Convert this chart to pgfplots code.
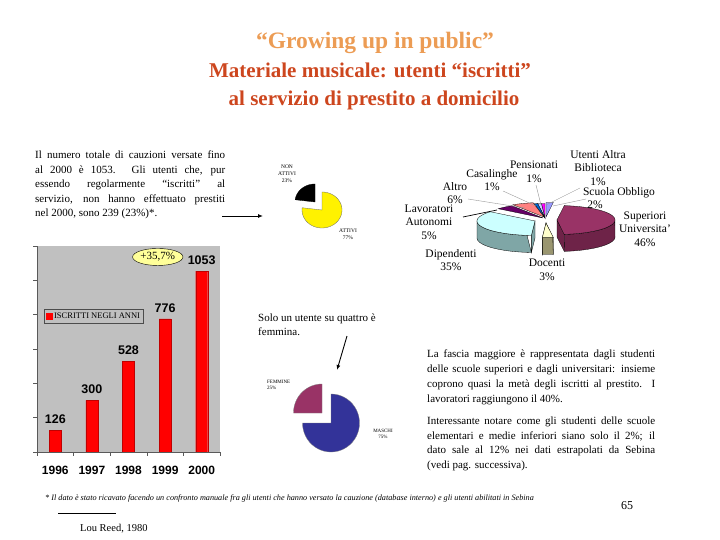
\documentclass[border=0pt]{standalone}
\usepackage{fontspec}
\setmainfont{Liberation Serif}
\newfontfamily\arial{Liberation Sans}
\usepackage{pgfplots}
\pgfplotsset{compat=1.18}
\usetikzlibrary{arrows.meta,shapes.geometric}

\definecolor{titleA}{RGB}{236,156,84}
\definecolor{titleB}{RGB}{205,70,30}
\definecolor{barbg}{RGB}{192,192,192}
\definecolor{supT}{HTML}{993366}
\definecolor{supS}{HTML}{6E2348}
\definecolor{docT}{HTML}{FFFFCC}
\definecolor{docS}{HTML}{9A9670}
\definecolor{dipT}{HTML}{CCFFFF}
\definecolor{dipS}{HTML}{7FA6A6}
\definecolor{lavT}{HTML}{660066}
\definecolor{altT}{HTML}{FF8080}
\definecolor{casT}{HTML}{0066CC}
\definecolor{penT}{HTML}{CCCCFF}
\definecolor{utT}{HTML}{FF00FF}
\definecolor{scuT}{HTML}{9999FF}
\definecolor{maschi}{HTML}{333399}
\definecolor{femmine}{HTML}{993366}
\definecolor{ellY}{HTML}{FFFF99}

% pie helpers (angles in degrees, image-style coordinates: y grows downwards)
\newcommand{\ptop}[7]{\addplot[#7, domain=#1:#2, samples=40] ({(#3)+(#5)*cos(x)},{(#4)-(#6)*sin(x)}) -- (axis cs:#3,#4) -- cycle;}
\newcommand{\pwall}[8]{\addplot[#8, samples at={0,0.05,...,1,1.0001,1.05,...,2.0001}] ({(#3)+(#5)*cos((#1)+((#2)-(#1))*min(x,2-x))},{(#4)-(#6)*sin((#1)+((#2)-(#1))*min(x,2-x))+(#7)*(x>1)}) -- cycle;}
\newcommand{\pradial}[7]{\addplot[#7, samples at={0,1,2,3}] ({(#2)+(#4)*cos(#1)*(x>0.5)*(x<2.5)},{(#3)-(#5)*sin(#1)*(x>0.5)*(x<2.5)+(#6)*(x>1.5)}) -- cycle;}

\begin{document}
\begin{tikzpicture}
\begin{axis}[at={(0pt,0pt)}, anchor=south west, scale only axis, width=720pt, height=540pt,
  xmin=0, xmax=720, ymin=0, ymax=540, y dir=reverse, hide axis, clip=false]
\path (axis cs:0,0) rectangle (axis cs:720,540);
% ---------- title
\node[anchor=base, inner sep=0, font=\fontsize{23.5}{23.5}\selectfont\bfseries, text=titleA] at (axis cs:375,49) {“Growing up in public”};
\node[anchor=base, inner sep=0, font=\fontsize{21}{21}\selectfont\bfseries, text=titleB] at (axis cs:370,78) {Materiale musicale: utenti “iscritti”};
\node[anchor=base, inner sep=0, font=\fontsize{21}{21}\selectfont\bfseries, text=titleB] at (axis cs:374,106) {al servizio di prestito a domicilio};
% ---------- left text
\begin{scope}[every node/.style={anchor=base west, inner sep=0, font=\fontsize{11}{13}\selectfont}]
\node at (axis cs:35,159) {\makebox[190pt][s]{Il numero totale di cauzioni versate fino}};
\node at (axis cs:35,173.5) {\makebox[190pt][s]{al 2000 è 1053. Gli utenti che, pur}};
\node at (axis cs:35,188) {\makebox[190pt][s]{essendo regolarmente “iscritti” al}};
\node at (axis cs:35,202.5) {\makebox[190pt][s]{servizio, non hanno effettuato prestiti}};
\node at (axis cs:35,217) {nel 2000, sono 239 (23\%)*.};
% right text
\node at (axis cs:427,357) {\makebox[228pt][s]{La fascia maggiore è rappresentata dagli studenti}};
\node at (axis cs:427,372) {\makebox[228pt][s]{delle scuole superiori e dagli universitari: insieme}};
\node at (axis cs:427,387) {\makebox[228pt][s]{coprono quasi la metà degli iscritti al prestito. I}};
\node at (axis cs:427,402) {lavoratori raggiungono il 40\%.};
\node at (axis cs:427,424) {\makebox[228pt][s]{Interessante notare come gli studenti delle scuole}};
\node at (axis cs:427,439) {\makebox[228pt][s]{elementari e medie inferiori siano solo il 2\%; il}};
\node at (axis cs:427,453.5) {\makebox[228pt][s]{dato sale al 12\% nei dati estrapolati da Sebina}};
\node at (axis cs:427,468) {(vedi pag. successiva).};
% middle text
\node at (axis cs:258,321) {Solo un utente su quattro è};
\node at (axis cs:258,335) {femmina.};
% bottom
\node[font=\fontsize{8.2}{9}\selectfont\itshape] at (axis cs:45,500) {* Il dato è stato ricavato facendo un confronto manuale fra gli utenti che hanno versato la cauzione (database interno) e gli utenti abilitati in Sebina};
\node[font=\fontsize{10.5}{12}\selectfont] at (axis cs:80,531) {Lou Reed, 1980};
\node[font=\fontsize{12}{12}\selectfont] at (axis cs:621,509) {65};
\end{scope}
\draw[line width=0.5pt] (axis cs:58,513) -- (axis cs:116,513);
% ---------- arrows
\draw[line width=0.9pt, -{Latex[length=5pt,width=4pt]}] (axis cs:222,216) -- (axis cs:263,216);
\draw[line width=0.9pt, -{Latex[length=5pt,width=4pt]}] (axis cs:347,336) -- (axis cs:337,370);
% ---------- pie: attivi / non attivi (77 / 23)
\ptop{-187.2}{90}{322}{210}{20}{18}{fill=yellow, draw=black!60, line width=0.3pt}
\ptop{90}{172.8}{315}{202}{20}{18}{fill=black, draw=black, line width=0.3pt}
\node[align=center, inner sep=0, font=\fontsize{5.5}{7}\selectfont] at (axis cs:287,174) {NON\\ATTIVI\\23\%};
\node[align=center, inner sep=0, font=\fontsize{5.5}{7}\selectfont] at (axis cs:348,234) {ATTIVI\\77\%};
% ---------- pie: maschi / femmine (75 / 25)
\ptop{-180}{90}{331}{423}{28.5}{29}{fill=maschi, draw=black!50, line width=0.3pt}
\ptop{90}{180}{322}{413}{28.5}{29}{fill=femmine, draw=black!50, line width=0.3pt}
\node[align=left, anchor=west, inner sep=0, font=\fontsize{5}{6.5}\selectfont] at (axis cs:267,385) {FEMMINE\\25\%};
\node[align=center, inner sep=0, font=\fontsize{5}{6.5}\selectfont] at (axis cs:383,434) {MASCHI\\75\%};
% ---------- 3D pie: categories of users
% Scuola 2, Superiori 46, Docenti 3, Dipendenti 35, Lavoratori 5, Altro 6, Casalinghe 1, Pensionati 1, Utenti altra bibl. 1
\pwall{-180}{-93.6}{535}{221}{58}{14.5}{17}{fill=dipS, draw=black, line width=0.3pt}
\pradial{-93.6}{535}{221}{58}{14.5}{17}{fill=dipS, draw=black, line width=0.3pt}
\pradial{-82.8}{557}{220}{58}{14.5}{17}{fill=supS, draw=black, line width=0.3pt}
\pwall{-82.8}{0}{557}{220}{58}{14.5}{17}{fill=supS, draw=black, line width=0.3pt}
\pradial{-93.6}{546}{223}{58}{14.5}{17}{fill=docS, draw=black, line width=0.3pt}
\pradial{-82.8}{546}{223}{58}{14.5}{17}{fill=docS, draw=black, line width=0.3pt}
\pwall{-93.6}{-82.8}{546}{223}{58}{14.5}{17}{fill=docS, draw=black, line width=0.3pt}
\ptop{82.8}{90}{546}{217}{58}{14.5}{fill=scuT, draw=black, line width=0.3pt}
\ptop{-270}{-266.4}{545}{218}{58}{14.5}{fill=utT, draw=black, line width=0.3pt}
\ptop{-266.4}{-262.8}{545}{218}{58}{14.5}{fill=penT, draw=black, line width=0.3pt}
\ptop{-262.8}{-259.2}{545}{218}{58}{14.5}{fill=casT, draw=black, line width=0.3pt}
\ptop{-259.2}{-237.6}{544}{217}{58}{14.5}{fill=altT, draw=black, line width=0.3pt}
\ptop{-237.6}{-219.6}{543}{218}{58}{14.5}{fill=lavT, draw=black, line width=0.3pt}
\ptop{-82.8}{82.8}{557}{220}{58}{14.5}{fill=supT, draw=black, line width=0.3pt}
\ptop{-219.6}{-93.6}{535}{221}{58}{14.5}{fill=dipT, draw=black, line width=0.3pt}
\ptop{-93.6}{-82.8}{546}{223}{58}{14.5}{fill=docT, draw=black, line width=0.3pt}
% leader lines
\draw[line width=0.7pt] (axis cs:463,217) -- (axis cs:497,210);
\begin{scope}[line width=0.4pt, draw=black!40]
\draw (axis cs:580,188) -- (axis cs:546,205);
\draw (axis cs:536,185) -- (axis cs:541,205);
\draw (axis cs:503,191) -- (axis cs:536,206);
\draw (axis cs:468,199) -- (axis cs:525,208);
\draw (axis cs:586,199) -- (axis cs:553,206);
\end{scope}
\begin{scope}[every node/.style={align=center, inner sep=0, font=\fontsize{11.5}{13.5}\selectfont}]
\node at (axis cs:598,168) {Utenti Altra\\Biblioteca\\1\%};
\node at (axis cs:534,172) {Pensionati\\1\%};
\node at (axis cs:492,180) {Casalinghe\\1\%};
\node at (axis cs:455,193) {Altro\\6\%};
\node at (axis cs:619,193) {Scuola Obbligo};
\node at (axis cs:595,205) {2\%};
\node at (axis cs:429,222) {Lavoratori\\Autonomi\\5\%};
\node at (axis cs:645,229) {Superiori\\Universita'\\46\%};
\node at (axis cs:451,260) {Dipendenti\\35\%};
\node at (axis cs:547,270) {Docenti\\3\%};
\end{scope}
\end{axis}

% ---------- bar chart
\begin{axis}[at={(37pt,88pt)}, anchor=south west, scale only axis, width=183pt, height=206pt,
  xmin=-0.5, xmax=4.5, ymin=0, ymax=1200,
  axis background/.style={fill=barbg},
  axis x line*=bottom, axis y line*=left,
  axis line style={draw=black!65, line width=0.6pt, -},
  ytick={0,200,...,1200}, yticklabels={},
  xtick={0,1,2,3,4}, xticklabels={1996,1997,1998,1999,2000},
  major x tick style={draw=none},
  minor xtick={-0.5,0.5,1.5,2.5,3.5,4.5},
  tick style={draw=black!65, line width=0.6pt},
  tick align=outside, major tick length=4pt, minor tick length=4pt,
  xticklabel style={font=\arial\bfseries\fontsize{12}{12}\selectfont, yshift=-7pt},
  ybar, bar width=12pt,
  nodes near coords,
  nodes near coords style={font=\arial\bfseries\fontsize{12.5}{12.5}\selectfont, yshift=3pt},
  /pgf/number format/1000 sep={}, /pgf/number format/assume math mode=true,
  legend style={at={(0.038,0.694)}, anchor=north west, fill=barbg, draw=black!70, line width=0.6pt,
    font=\fontsize{8.5}{9}\selectfont, inner sep=1.5pt},
  legend image code/.code={\fill[red] (0pt,-3pt) rectangle (6pt,3pt);},
]
\addplot[fill=red, draw=red!75!black, line width=0.4pt] coordinates {(0,126) (1,300) (2,528) (3,776) (4,1053)};
\legend{ISCRITTI NEGLI ANNI}
\node[ellipse, fill=ellY, draw=black, line width=0.4pt, inner sep=0.5pt, minimum width=40pt, minimum height=17pt, font=\fontsize{11}{11}\selectfont] at (axis cs:2.8,1136) {+35,7\%};
\end{axis}
\end{tikzpicture}
\end{document}
